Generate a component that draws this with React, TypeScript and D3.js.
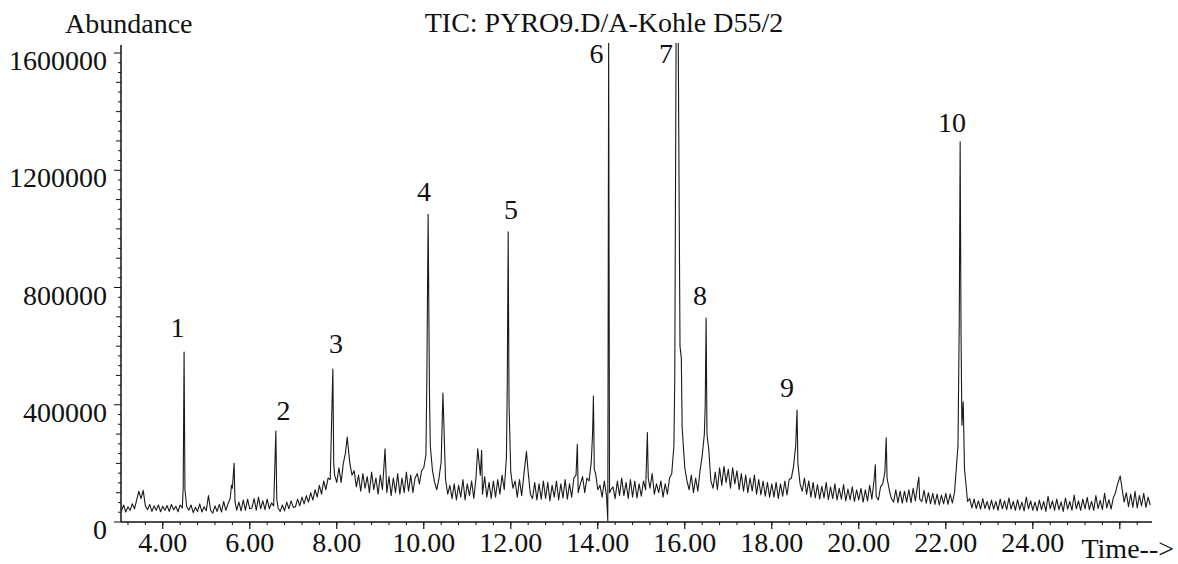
import React from 'react';
import * as d3 from 'd3';

// ---------- data ----------
const titleText = 'TIC: PYRO9.D/A-Kohle D55/2';
const yAxisTitle = 'Abundance';
const xAxisTitle = 'Time-->';
const yTickValues = [0, 400000, 800000, 1200000, 1600000];
const xTickLabelValues = [4, 6, 8, 10, 12, 14, 16, 18, 20, 22, 24];

// baseline trace, read every 0.05 min from 3.05 to 26.70 (values in thousands)
const baseStart = 3.05;
const baseStep = 0.05;
const baseValuesK = [
  38, 58, 34, 52, 40, 62, 45, 75, 105, 80, 108, 55, 42, 60, 36, 55, 40, 58, 35, 54,
  40, 56, 36, 60, 42, 54, 35, 58, 48, 75, 52, 40, 58, 32, 50, 36, 62, 34, 52, 38,
  90, 40, 30, 55, 36, 60, 34, 70, 40, 62, 80, 115, 55, 40, 68, 38, 75, 40, 78, 45,
  48, 80, 40, 85, 45, 72, 42, 78, 45, 65, 55, 75, 48, 36, 58, 38, 68, 45, 72, 50,
  52, 78, 55, 85, 62, 90, 68, 100, 75, 110, 85, 125, 95, 140, 110, 150, 145, 180, 160, 135,
  185, 135, 200, 235, 265, 200, 160, 175, 120, 160, 105, 165, 115, 155, 100, 170, 110, 150, 95, 160,
  110, 170, 100, 155, 90, 150, 100, 165, 95, 150, 100, 170, 105, 160, 100, 150, 165, 130, 175, 185,
  230, 300, 260, 175, 135, 110, 150, 205, 240, 145, 95, 125, 80, 130, 75, 125, 85, 145, 75, 130,
  90, 140, 80, 150, 110, 160, 95, 155, 85, 135, 80, 140, 85, 145, 95, 160, 110, 220, 240, 170,
  115, 140, 85, 145, 90, 160, 110, 170, 95, 80, 135, 75, 130, 78, 140, 80, 135, 72, 125, 85,
  140, 75, 130, 82, 145, 78, 130, 85, 150, 160, 100, 130, 155, 100, 150, 140, 205, 260, 165, 110,
  125, 85, 140, 90, 150, 110, 120, 80, 140, 90, 150, 90, 135, 80, 145, 85, 140, 82, 130, 88,
  140, 110, 205, 115, 165, 95, 130, 100, 140, 85, 130, 95, 150, 165, 260, 400, 500, 600, 300, 185,
  140, 110, 160, 100, 150, 105, 175, 225, 300, 330, 250, 140, 115, 170, 110, 185, 125, 190, 135, 180,
  115, 185, 130, 175, 110, 165, 105, 160, 100, 150, 105, 160, 95, 145, 92, 140, 88, 135, 85, 130,
  85, 135, 80, 130, 88, 140, 92, 145, 150, 190, 260, 175, 130, 105, 150, 95, 140, 85, 135, 82,
  128, 78, 122, 82, 135, 76, 120, 80, 130, 75, 115, 78, 128, 72, 112, 76, 120, 70, 110, 75,
  115, 68, 110, 72, 125, 78, 140, 88, 75, 120, 130, 170, 200, 110, 80, 68, 110, 66, 105, 64,
  105, 68, 110, 66, 115, 72, 125, 78, 70, 108, 64, 100, 62, 98, 60, 95, 58, 92, 62, 98,
  60, 95, 65, 100, 200, 400, 500, 300, 150, 70, 80, 48, 78, 46, 72, 44, 80, 46, 70, 42,
  75, 44, 70, 40, 78, 45, 72, 42, 82, 44, 70, 40, 76, 42, 68, 38, 85, 45, 72, 40,
  68, 38, 75, 42, 70, 36, 88, 45, 72, 40, 78, 42, 68, 36, 82, 44, 70, 40, 92, 45,
  72, 40, 78, 45, 84, 42, 70, 40, 90, 46, 74, 42, 98, 48, 76, 44, 82, 100, 130, 150,
  115, 68, 100, 52, 95, 50, 105, 48, 90, 55, 98, 50, 85, 58,
];

// sharp peaks (time in min, value in thousands)
const peakTimes = [
  4.47, 4.49, 4.51,
  5.58, 5.64, 5.66,
  6.6, 6.62,
  7.91, 7.93,
  8.24,
  9.11,
  10.07, 10.1, 10.13,
  10.44,
  11.24, 11.33,
  11.92, 11.94, 11.96,
  12.36,
  13.53,
  13.88, 13.9, 13.92,
  14.23, 14.25, 14.27,
  15.14, 15.16,
  15.77, 15.8, 15.85, 15.87, 15.89, 15.92, 15.94,
  16.47, 16.49, 16.51,
  18.58, 18.6,
  20.38,
  20.63, 20.65,
  21.38,
  22.28, 22.31, 22.33, 22.35, 22.37, 22.4, 22.43,
  26.01,
];
const peakValuesK = [
  120, 580, 110,
  126, 200, 70,
  310, 80,
  522, 200,
  290,
  250,
  480, 1050, 450,
  440,
  250, 245,
  480, 990, 400,
  240,
  265,
  300, 430, 180,
  5, 1640, 100,
  305, 150,
  500, 1640, 1640, 1100, 600, 560, 320,
  400, 696, 300,
  382, 200,
  195,
  287, 150,
  153,
  260, 700, 1297, 650, 330, 410, 180,
  157,
];

// peak number annotations (anchor in data units)
const labelNames = ['1', '2', '3', '4', '5', '6', '7', '8', '9', '10'];
const labelTimes = [4.339, 6.776, 7.983, 10.006, 12.006, 13.971, 15.569, 16.35, 18.35, 22.144];
const labelValues = [631000, 348000, 577000, 1095000, 1034000, 1566000, 1566000, 740000, 426000, 1330000];

// ---------- layout ----------
const W = 1178;
const H = 564;
const left = 121;
const right = 1152;
const bottom = 522;
const axisTop = 45;
const FONT = "'Liberation Serif', 'Times New Roman', serif";

export default function App() {
  const x = d3.scaleLinear().domain([3.04, 26.74]).range([left, right]);
  const y = d3.scaleLinear().domain([0, 1600000]).range([bottom, 53]);

  const basePts: [number, number][] = baseValuesK.map((v, i) => [
    +(baseStart + i * baseStep).toFixed(2),
    v * 1000,
  ]);
  const peakPts: [number, number][] = peakTimes.map((t, i) => [t, peakValuesK[i] * 1000]);
  const merged = basePts
    .filter(([t]) => !peakTimes.some((pt) => Math.abs(pt - t) < 0.015))
    .concat(peakPts)
    .sort((a, b) => a[0] - b[0]);

  const line = d3
    .line<[number, number]>()
    .x((d) => x(d[0]))
    .y((d) => y(d[1]));

  const xMinor = d3.range(0, 60).map((i) => 3.2 + i * 0.4).filter((t) => t <= 26.74);
  const xMajor = d3.range(4, 27, 2);
  const yMinor = d3.range(0, 49).map((i) => (i * 100000) / 3);

  const fmtX = d3.format('.2f');

  return (
    <svg
      width={W}
      height={H}
      style={{ position: 'absolute', left: 0, top: 0, background: '#fff' }}
      fontFamily={FONT}
    >
      <defs>
        <clipPath id="plotClip">
          <rect x={left} y={43} width={right - left} height={bottom - 43 + 1} />
        </clipPath>
      </defs>
      <rect x={0} y={0} width={W} height={H} fill="#fff" />

      {/* titles */}
      <text x={65} y={33} fontSize={28} fill="#111">
        {yAxisTitle}
      </text>
      <text x={604} y={32} fontSize={28} fill="#111" textAnchor="middle">
        {titleText}
      </text>

      {/* trace */}
      <path
        d={line(merged) || ''}
        fill="none"
        stroke="#1a1a1a"
        strokeWidth={1.1}
        strokeLinejoin="round"
        clipPath="url(#plotClip)"
      />

      {/* y axis */}
      <line x1={left} x2={left} y1={axisTop} y2={bottom} stroke="#111" strokeWidth={1.5} />
      {yMinor.map((v, i) => {
        const len = i % 12 === 0 ? 7 : i % 3 === 0 ? 5 : 3;
        return (
          <line
            key={'ym' + i}
            x1={left - len}
            x2={left}
            y1={y(v)}
            y2={y(v)}
            stroke="#111"
            strokeWidth={1}
          />
        );
      })}
      {yTickValues.map((v) => (
        <text key={'yl' + v} x={107} y={y(v) + 17} fontSize={28} textAnchor="end" fill="#111">
          {v}
        </text>
      ))}

      {/* x axis */}
      <line x1={left} x2={right} y1={bottom} y2={bottom} stroke="#111" strokeWidth={1.5} />
      {xMinor.map((t, i) => (
        <line key={'xm' + i} x1={x(t)} x2={x(t)} y1={bottom} y2={bottom + 3} stroke="#111" strokeWidth={1} />
      ))}
      {xMajor.map((t) => (
        <line key={'xM' + t} x1={x(t)} x2={x(t)} y1={bottom} y2={bottom + 7} stroke="#111" strokeWidth={1.2} />
      ))}
      {xTickLabelValues.map((t) => (
        <text key={'xl' + t} x={x(t)} y={552} fontSize={28} textAnchor="middle" fill="#111">
          {fmtX(t)}
        </text>
      ))}
      <text x={1174} y={558} fontSize={28} fill="#111" textAnchor="end">
        {xAxisTitle}
      </text>

      {/* peak labels */}
      {labelNames.map((n, i) => (
        <text
          key={'pl' + n}
          x={x(labelTimes[i])}
          y={y(labelValues[i])}
          fontSize={28}
          textAnchor="middle"
          fill="#111"
        >
          {n}
        </text>
      ))}
    </svg>
  );
}
